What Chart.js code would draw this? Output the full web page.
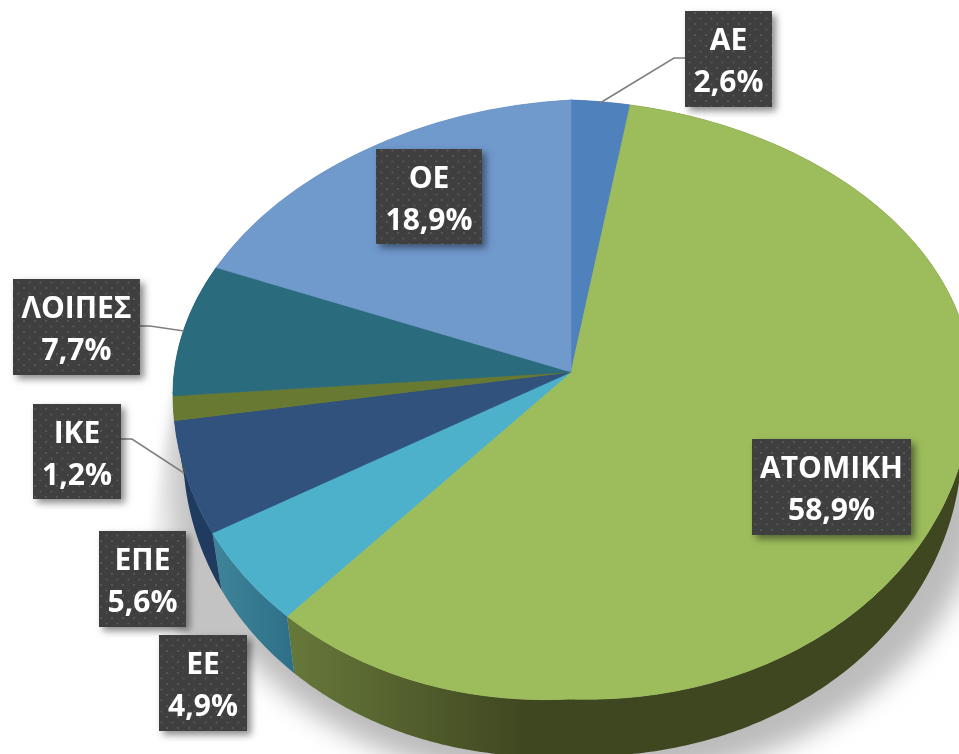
<!DOCTYPE html>
<html><head><meta charset="utf-8">
<style>html,body{margin:0;padding:0;background:#fff;overflow:hidden}canvas{display:block}</style>
<script src="https://cdn.jsdelivr.net/npm/chart.js@4"></script>
</head><body><canvas id="c" width="959" height="754"></canvas>
<script>
const categories = ['ΑΕ','ΑΤΟΜΙΚΗ','ΕΕ','ΕΠΕ','ΙΚΕ','ΛΟΙΠΕΣ','ΟΕ'];
const shares = [2.6,58.9,4.9,5.6,1.2,7.7,18.9];
const colors = ['#4f81bd','#9dbd5c','#4eb1cc','#30527c','#687a32','#2a6b7d','#7099cc'];
const wallStart = ['#3b6190','#66773a','#3e8499','#1f3c60','#4e5c26','#1f505e','#547399'];
const wallEnd   = ['#3b6190','#3f4720','#2d6f87','#1f3c60','#4e5c26','#1f505e','#547399'];
// label boxes: [left, top, right, bottom]
const labelBoxes = [[685,11,772,107],[752,439,911,535],[159,635,247,731],[99,531,186,627],[33,404,121,499],[13,279,140,375],[376,149,482,244]];
const leaders = [[[600,103],[674,58],[685,58]],null,null,null,[[121,439],[132,439],[184,473]],[[140,326],[150,326],[184,331]],null];
// projected disc: hub and the ends of its four radii
const HUB={x:571,y:372},TOP={x:571,y:100},RIGHT={x:972,y:385},BOTTOM={x:571,y:699},LEFT={x:173,y:393};
const SKEW=5.5*Math.PI/180;

function project(t){
  const u=Math.sin(t),v=Math.cos(t),H=u>=0?RIGHT:LEFT,V=v>=0?TOP:BOTTOM;
  return {x:HUB.x+Math.abs(u)*(H.x-HUB.x)+Math.abs(v)*(V.x-HUB.x),
          y:HUB.y+Math.abs(u)*(H.y-HUB.y)+Math.abs(v)*(V.y-HUB.y)};
}
function lower(p){return {x:p.x-(p.x-HUB.x)*0.025,y:p.y+57};}
function outline(ctx,fn,scaleX,dx,dy){
  ctx.beginPath();
  for(let i=0;i<=360;i+=2){const p=fn(project(i*Math.PI/180));
    const x=HUB.x+(p.x-HUB.x)*scaleX+dx,y=p.y+dy;
    i?ctx.lineTo(x,y):ctx.moveTo(x,y);}
  ctx.closePath();
}
const pie3d={
  id:'pie3d',
  afterDatasetsUpdate(chart){
    const w=a=>{const t=a+Math.PI/2;return t-SKEW*Math.sin(t)-Math.PI/2;};
    chart.getDatasetMeta(0).data.forEach(arc=>{
      const s=w(arc.startAngle),e=w(arc.endAngle);
      arc.startAngle=s;arc.endAngle=e;arc.circumference=e-s;
    });
  },
  beforeDatasetsDraw(chart){
    const ctx=chart.ctx;
    // soft shadow
    ctx.save();
    ctx.filter='blur(13px)';
    ctx.fillStyle='#bcbcbc';
    outline(ctx,lower,1.04,10,26);
    ctx.fill();
    ctx.restore();
    ctx.save();
    ctx.filter='blur(5px)';
    const g=ctx.createLinearGradient(150,0,195,0);
    g.addColorStop(0,'rgba(215,215,215,0.2)');g.addColorStop(1,'rgba(195,195,195,1)');
    ctx.fillStyle=g;
    ctx.beginPath();ctx.moveTo(178,370);ctx.lineTo(151,530);ctx.lineTo(168,625);ctx.lineTo(235,670);ctx.lineTo(300,600);ctx.closePath();ctx.fill();
    ctx.restore();
    // side wall
    const arcs=chart.getDatasetMeta(0).data;
    arcs.forEach((arc,i)=>{
      const a=arc.startAngle+Math.PI/2,b=arc.endAngle+Math.PI/2,n=Math.max(4,Math.ceil((b-a)*90));
      const up=[];for(let k=0;k<=n;k++)up.push(project(a+(b-a)*k/n));
      const gr=ctx.createLinearGradient(295,0,525,0);
      if(i===2){const g2=ctx.createLinearGradient(215,0,295,0);g2.addColorStop(0,wallStart[i]);g2.addColorStop(1,wallEnd[i]);ctx.fillStyle=g2;}
      else{gr.addColorStop(0,wallStart[i]);gr.addColorStop(1,wallEnd[i]);ctx.fillStyle=gr;}
      ctx.beginPath();
      up.forEach((p,k)=>k?ctx.lineTo(p.x,p.y):ctx.moveTo(p.x,p.y));
      up.slice().reverse().forEach(p=>{const q=lower(p);ctx.lineTo(q.x,q.y);});
      ctx.closePath();ctx.fill();
    });
  },
  beforeDatasetDraw(chart,args){
    const ctx=chart.ctx,meta=args.meta,arc=meta.data[0],cx=arc.x,cy=arc.y,r=arc.outerRadius;
    [[RIGHT,TOP,1,-1],[LEFT,TOP,-1,-1],[RIGHT,BOTTOM,1,1],[LEFT,BOTTOM,-1,1]].forEach(([H,V,sx,sy])=>{
      ctx.save();
      ctx.transform((H.x-HUB.x)/(r*sx),(H.y-HUB.y)/(r*sx),(V.x-HUB.x)/(r*sy),(V.y-HUB.y)/(r*sy),
        HUB.x-(H.x-HUB.x)/(r*sx)*cx-(V.x-HUB.x)/(r*sy)*cy,
        HUB.y-(H.y-HUB.y)/(r*sx)*cx-(V.y-HUB.y)/(r*sy)*cy);
      ctx.beginPath();
      const o=1;
      ctx.rect(sx>0?cx-o:cx-r*1.1,sy>0?cy-o:cy-r*1.1,r*1.1+o,r*1.1+o);
      ctx.clip();
      meta.controller.draw();
      ctx.restore();
    });
    return false;
  },
  afterDatasetsDraw(chart){
    const ctx=chart.ctx;
    ctx.save();
    ctx.strokeStyle='#7f7f7f';ctx.lineWidth=1.6;
    leaders.forEach(l=>{ if(!l)return; ctx.beginPath();l.forEach((p,k)=>k?ctx.lineTo(p[0],p[1]):ctx.moveTo(p[0],p[1]));ctx.stroke();});
    const cell=document.createElement('canvas');cell.width=cell.height=11;
    const cc=cell.getContext('2d');cc.fillStyle='#3f3f3f';cc.fillRect(0,0,11,11);
    cc.fillStyle='#565656';cc.fillRect(1,1,2,2);cc.fillRect(6.5,6.5,2,2);
    const pat=ctx.createPattern(cell,'repeat');
    labelBoxes.forEach((b,i)=>{
      ctx.save();
      ctx.shadowColor='rgba(0,0,0,0.45)';ctx.shadowBlur=7;ctx.shadowOffsetX=4;ctx.shadowOffsetY=4;
      ctx.fillStyle='#3f3f3f';ctx.fillRect(b[0],b[1],b[2]-b[0],b[3]-b[1]);
      ctx.restore();
      ctx.fillStyle=pat;ctx.fillRect(b[0],b[1],b[2]-b[0],b[3]-b[1]);
      ctx.fillStyle='#fff';ctx.font='bold 30px "Open Sans"';ctx.textAlign='center';ctx.textBaseline='alphabetic';
      const mid=(b[0]+b[2])/2;
      ctx.fillText(categories[i],mid,b[1]+39);
      ctx.fillText(shares[i].toFixed(1).replace('.',',')+'%',mid,b[1]+81);
    });
    ctx.restore();
  }
};
new Chart(document.getElementById('c'),{
  type:'pie',
  data:{labels:categories,datasets:[{data:shares,backgroundColor:colors,borderColor:colors,borderWidth:0.6}]},
  options:{responsive:false,animation:false,radius:300,
    plugins:{legend:{display:false},tooltip:{enabled:false}},
    layout:{padding:0}},
  plugins:[pie3d]
});
</script></body></html>
